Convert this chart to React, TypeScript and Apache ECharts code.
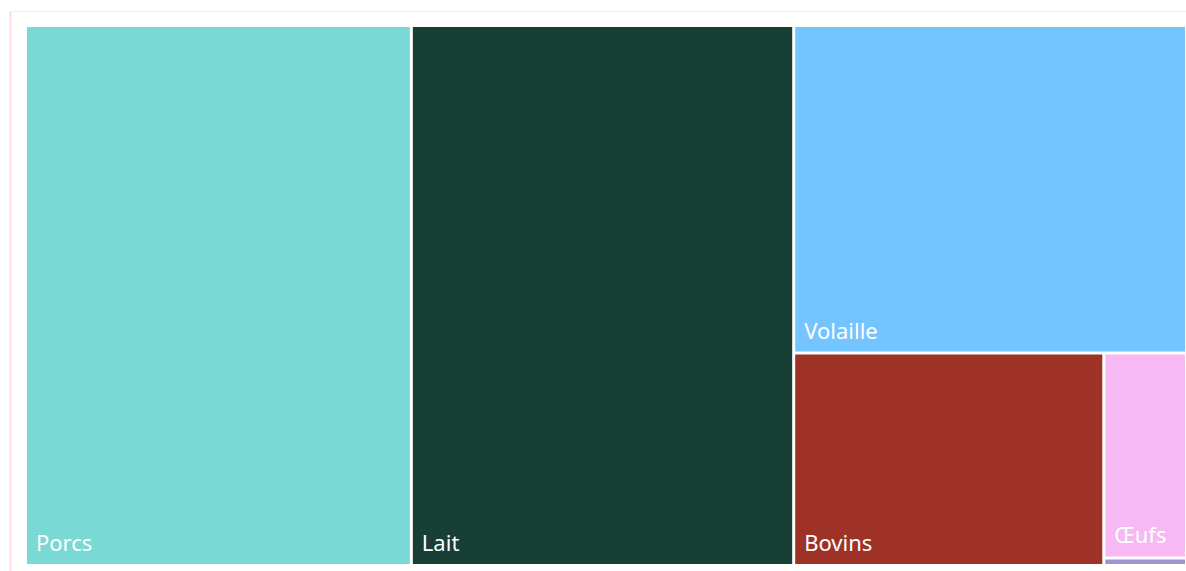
import React, { useEffect, useRef } from "react";
import * as echarts from "echarts";

const categories = ["Porcs", "Lait", "Volaille", "Bovins", "Œufs", "Autres"];
const values = [33.2, 32.9, 20.5, 10.5, 2.7, 0.1];
const colors = ["#79D9D4", "#173F35", "#74C4FF", "#9E3226", "#F6B9F4", "#9A97CF"];
const showLabel = [true, true, true, true, true, false];

export default function App() {
  const ref = useRef<HTMLDivElement>(null);
  useEffect(() => {
    const chart = echarts.init(ref.current!, null, { renderer: "svg" });
    const data = categories.map((name, i) => ({
      name,
      value: values[i],
      itemStyle: { color: colors[i] },
      label: { show: showLabel[i] },
    }));
    chart.setOption({
      animation: false,
      graphic: [
        { type: "line", shape: { x1: 10.5, y1: 11, x2: 10.5, y2: 571 }, style: { stroke: "#F8D8D8", lineWidth: 1.5 } },
        { type: "line", shape: { x1: 10, y1: 11.5, x2: 1186, y2: 11.5 }, style: { stroke: "#F6EEEE", lineWidth: 1 } },
      ],
      series: [
        {
          type: "treemap",
          left: 27,
          top: 27,
          width: 1158,
          height: 537,
          roam: false,
          nodeClick: false,
          breadcrumb: { show: false },
          squareRatio: 1,
          itemStyle: { gapWidth: 3, borderWidth: 0, borderColor: "#fff" },
          levels: [{ itemStyle: { gapWidth: 3, borderWidth: 0 } }],
          label: {
            show: true,
            position: "insideBottomLeft",
            color: "#fff",
            fontSize: 22,
            fontFamily: "'Segoe UI', 'Noto Sans', sans-serif",
            padding: [0, 0, 11, 9],
            formatter: "{b}",
          },
          data,
        },
      ],
    });
    return () => chart.dispose();
  }, []);
  return (
    <div
      ref={ref}
      style={{ position: "fixed", left: 0, top: 0, width: 1186, height: 571, background: "#fff" }}
    />
  );
}
